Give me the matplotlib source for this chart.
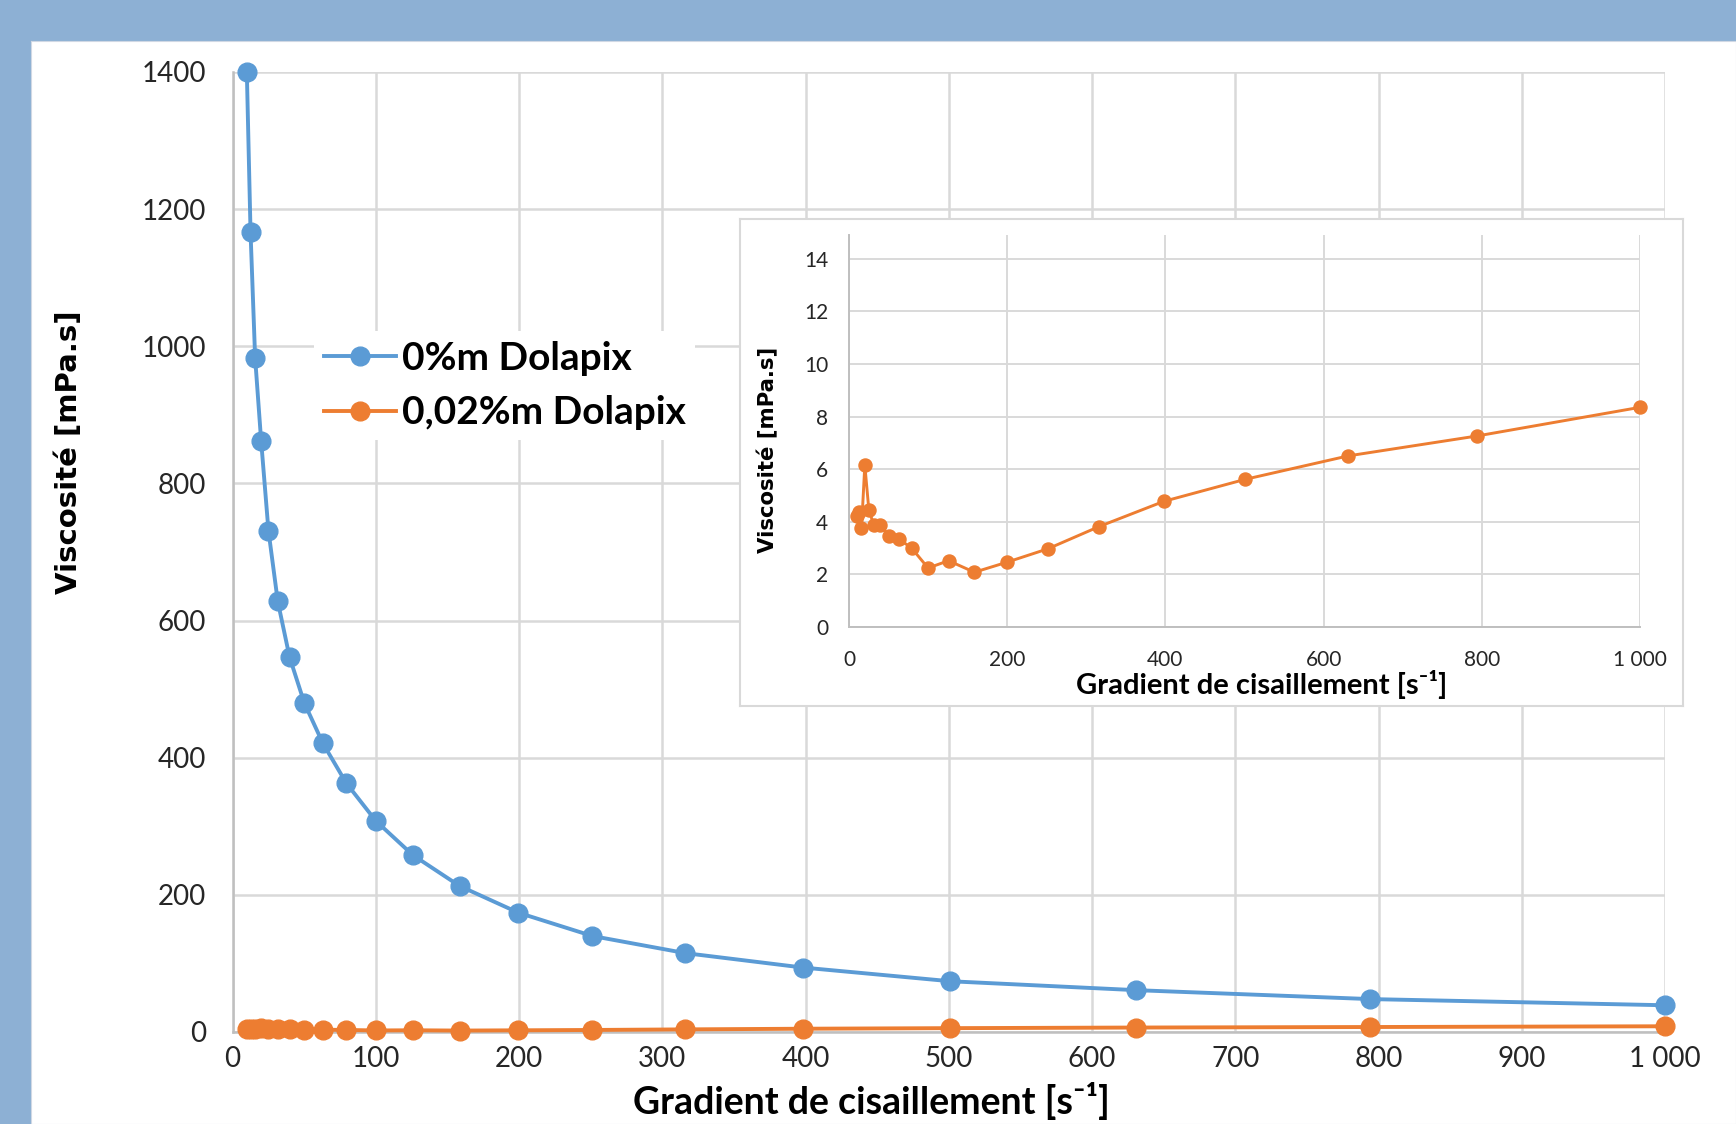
import numpy as np
import matplotlib
matplotlib.use("Agg")
import matplotlib.pyplot as plt
from matplotlib.ticker import FuncFormatter

plt.rcParams['font.family'] = ['Lato', 'DejaVu Sans']

# shear rate [1/s]
shear = [10, 12.6, 15.8, 20, 25.1, 31.6, 39.8, 50.1, 63.1, 79.4, 100,
         125.9, 158.5, 199.5, 251.2, 316.2, 398.1, 501.2, 631, 794.3, 1000]
# viscosity [mPa.s]
visc_0 = [1400, 1166, 983, 862, 731, 628, 547, 480, 421, 363, 308,
          258, 213, 174, 140, 115, 94, 74, 61, 48, 39]
visc_002 = [4.23, 4.38, 3.74, 6.15, 4.44, 3.85, 3.85, 3.46, 3.34, 2.98, 2.23,
            2.51, 2.07, 2.45, 2.96, 3.81, 4.77, 5.61, 6.5, 7.26, 8.35]

xlab = 'Gradient de cisaillement [s⁻¹]'
ylab = 'Viscosité [mPa.s]'

blue = '#5B9BD5'
orange = '#ED7D31'
grid_c = '#D9D9D9'
axis_c = '#BFBFBF'
txt_c = '#262626'

W, H = 1736, 1124
fig = plt.figure(figsize=(W / 100, H / 100), dpi=100, facecolor='#8DB0D4')

# white panel
bg = fig.add_axes([31 / W, 0, 1 - 31 / W, 1 - 41 / H])
bg.set_facecolor('white')
bg.set_xticks([])
bg.set_yticks([])
for s in bg.spines.values():
    s.set_color('#D0D8E4')

def thousands(v, pos):
    v = int(round(v))
    if v >= 1000:
        return f"{v // 1000} {v % 1000:03d}"
    return str(v)

# main chart
ax = fig.add_axes([232.5 / W, 1 - 1032 / H, (1665 - 232.5) / W, (1032 - 72) / H])
ax.set_facecolor('none')
ax.plot(shear, visc_0, '-o', color=blue, lw=2.8, ms=13.5, label='0%m Dolapix', zorder=4, clip_on=False)
ax.plot(shear, visc_002, '-o', color=orange, lw=2.8, ms=13.5, label='0,02%m Dolapix', zorder=4, clip_on=False)
ax.set_xlim(0, 1000)
ax.set_ylim(0, 1400)
ax.set_xticks(np.arange(0, 1001, 100))
ax.set_yticks(np.arange(0, 1401, 200))
ax.xaxis.set_major_formatter(FuncFormatter(thousands))
ax.grid(True, color=grid_c, lw=1.8)
ax.set_axisbelow(True)
for s in ['top', 'right']:
    ax.spines[s].set_visible(False)
for s in ['left', 'bottom']:
    ax.spines[s].set_color(axis_c)
    ax.spines[s].set_linewidth(1.8)
ax.tick_params(axis='x', length=0, labelsize=20, colors=txt_c, pad=10)
ax.tick_params(axis='y', length=0, labelsize=20, colors=txt_c, pad=19)
ax.set_xlabel(xlab, fontsize=27, fontweight='bold', color='black', va='bottom')
ax.xaxis.set_label_coords(0.4457, -0.0915)
ax.set_ylabel(ylab, fontsize=21, fontweight='bold',
              family='DejaVu Sans', color='black')
ax.yaxis.set_label_coords(-0.1044, 0.604)

leg = ax.legend(loc='upper left', bbox_to_anchor=(314 / W, 1 - 331 / H),
                bbox_transform=fig.transFigure, frameon=True, fancybox=False,
                edgecolor='none', facecolor='white', framealpha=1,
                prop={'size': 28, 'weight': 'bold'}, handlelength=1.85,
                handletextpad=0.15, borderpad=0.25, labelspacing=0.5,
                borderaxespad=0)
for t in leg.get_texts():
    t.set_color('black')

# inset frame
fr = fig.add_axes([739.5 / W, 1 - 706 / H, (1683 - 739.5) / W, (706 - 219) / H])
fr.set_facecolor('white')
fr.set_xticks([])
fr.set_yticks([])
fr.set_zorder(5)
for s in fr.spines.values():
    s.set_color(grid_c)
    s.set_linewidth(1.5)

# inset chart
ins = fig.add_axes([849 / W, 1 - 626.6 / H, (1640 - 849) / W, (626.6 - 235.3) / H])
ins.set_zorder(6)
ins.set_facecolor('none')
ins.plot(shear, visc_002, '-o', color=orange, lw=2.1, ms=9.4, zorder=4, clip_on=False)
ins.set_xlim(0, 1000)
ins.set_ylim(0, 14.9)
ins.set_xticks(np.arange(0, 1001, 200))
ins.set_yticks(np.arange(0, 15, 2))
ins.xaxis.set_major_formatter(FuncFormatter(thousands))
ins.grid(True, color=grid_c, lw=1.4)
ins.set_axisbelow(True)
for s in ['top', 'right']:
    ins.spines[s].set_visible(False)
for s in ['left', 'bottom']:
    ins.spines[s].set_color(axis_c)
    ins.spines[s].set_linewidth(1.4)
ins.tick_params(axis='x', length=0, labelsize=15, colors=txt_c, pad=17)
ins.tick_params(axis='y', length=0, labelsize=15, colors=txt_c, pad=15)
ins.set_xlabel(xlab, fontsize=21, fontweight='bold', color='black')
ins.xaxis.set_label_coords(0.522, -0.11)
ins.set_ylabel(ylab, fontsize=15.3, fontweight='bold',
               family='DejaVu Sans', color='black')
ins.yaxis.set_label_coords(-0.0898, 0.4526)

fig.savefig('out.png', dpi=100, facecolor=fig.get_facecolor())
